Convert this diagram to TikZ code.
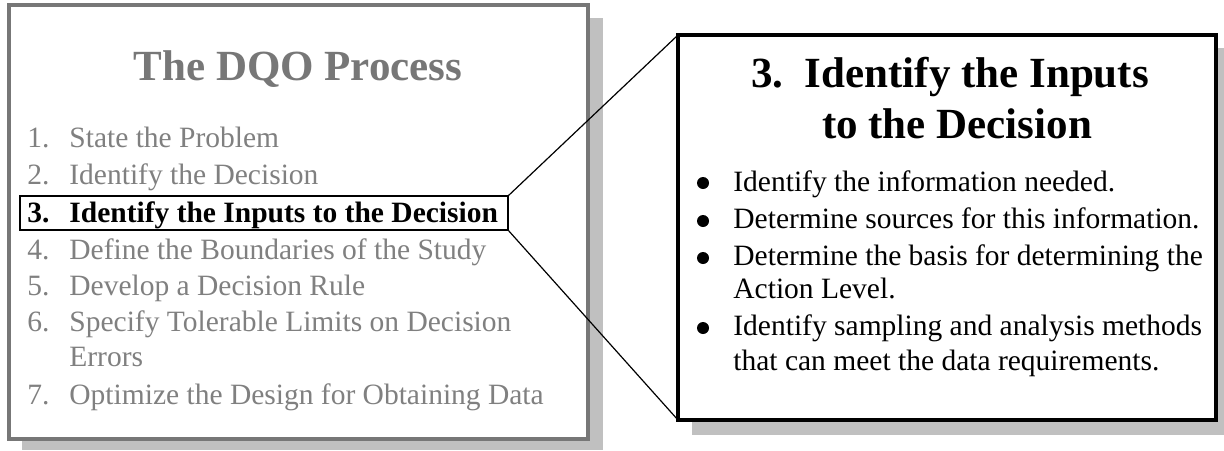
\documentclass[tikz,border=0pt]{standalone}
\usepackage{fontspec}
\setmainfont{Liberation Serif}
\definecolor{frameGray}{HTML}{777777}
\definecolor{textGray}{HTML}{808080}
\definecolor{shadowGray}{HTML}{C0C0C0}

\begin{document}
\begin{tikzpicture}[x = 0.5pt, y = -0.5pt]
\tikzstyle{itemStyle} = [anchor = base west, inner sep = 0pt, font = \fontsize{14.75}{17}\selectfont]
\tikzstyle{grayItemStyle} = [itemStyle, text = textGray]
\tikzstyle{boldItemStyle} = [itemStyle, font = \fontsize{14.75}{17}\selectfont\bfseries]
\tikzstyle{titleStyle} = [anchor = base, inner sep = 0pt, font = \fontsize{21.5}{26}\selectfont\bfseries]
\tikzstyle{bulletStyle} = [shape = circle, minimum size = 6pt, inner sep = 0pt, fill = black]
\tikzstyle{boxStyle} = [shape = rectangle, inner sep = 0pt, outer sep = 0pt]
\useasboundingbox (0,0) rectangle (1224,450);
% shadows
\fill[shadowGray] (22,18) rectangle (603,450);
\fill[shadowGray] (692,48) rectangle (1224,435);
% left panel
\node[boxStyle, draw = frameGray, line width = 2pt, fill = white, minimum width = 289.5pt, minimum height = 217pt] (dqo) at (298.5,222) {};
\node[titleStyle, text = frameGray] (dqoTitle) at (298,80) {The DQO Process};
\node[grayItemStyle] (n1) at (27,147) {1.};
\node[grayItemStyle] (s1) at (69,147) {State the Problem};
\node[grayItemStyle] (n2) at (27,184) {2.};
\node[grayItemStyle] (s2) at (69,184) {Identify the Decision};
\node[boldItemStyle] (n3) at (27,222) {3.};
\node[boldItemStyle] (s3) at (69,222) {Identify the Inputs to the Decision};
\node[grayItemStyle] (n4) at (27,259) {4.};
\node[grayItemStyle] (s4) at (69,259) {Define the Boundaries of the Study};
\node[grayItemStyle] (n5) at (27,295) {5.};
\node[grayItemStyle] (s5) at (69,295) {Develop a Decision Rule};
\node[grayItemStyle] (n6) at (27,331) {6.};
\node[grayItemStyle] (s6) at (69,331) {Specify Tolerable Limits on Decision};
\node[grayItemStyle] (s6b) at (69,366) {Errors};
\node[grayItemStyle] (n7) at (27,404) {7.};
\node[grayItemStyle] (s7) at (69,404) {Optimize the Design for Obtaining Data};
\node[boxStyle, draw, line width = 0.8pt, minimum width = 244pt, minimum height = 17pt] (step3) at (264,213) {};
% right panel
\node[boxStyle, draw, line width = 2pt, fill = white, minimum width = 269pt, minimum height = 192.5pt] (inputs) at (947,227.5) {};
\node[titleStyle] (inTitle1) at (950,87) {3.\ \ Identify the Inputs};
\node[titleStyle] (inTitle2) at (957,138) {to the Decision};
\node[bulletStyle] (b1) at (703,183) {};
\node[itemStyle] (t1) at (733,191) {Identify the information needed.};
\node[bulletStyle] (b2) at (703,221) {};
\node[itemStyle] (t2) at (733,228) {Determine sources for this information.};
\node[bulletStyle] (b3) at (703,258) {};
\node[itemStyle] (t3) at (733,265) {Determine the basis for determining the};
\node[itemStyle] (t3b) at (733,298) {Action Level.};
\node[bulletStyle] (b4) at (703,328) {};
\node[itemStyle] (t4) at (733,335) {Identify sampling and analysis methods};
\node[itemStyle] (t4b) at (733,370) {that can meet the data requirements.};
% zoom lines
\draw[line width = 0.6pt] (step3.north east) -- (inputs.north west);
\draw[line width = 0.6pt] (step3.south east) -- (inputs.south west);
\end{tikzpicture}
\end{document}
